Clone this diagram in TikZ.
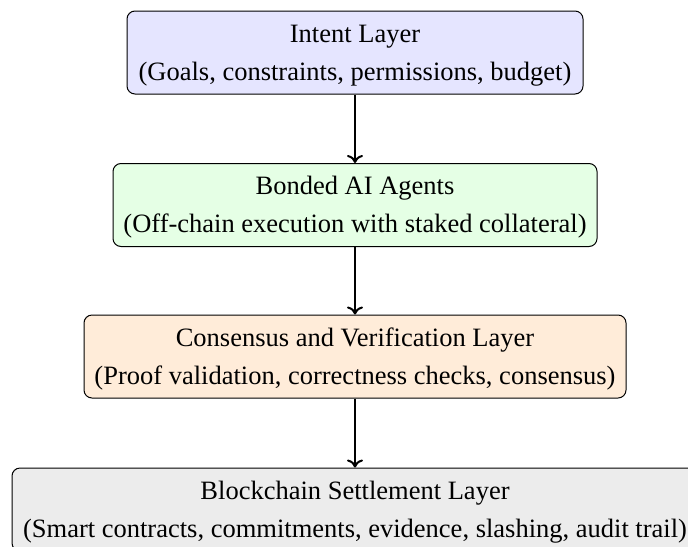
\documentclass[tikz,border=0pt]{standalone}
\usepackage{fontspec}
\setmainfont{Liberation Serif}
\usetikzlibrary{arrows.meta}
% struts that fix the first baseline and the last depth of each box text
\def\hstrut{\rule{0pt}{11.5pt}}
\def\dstrut{\rule[-3pt]{0pt}{3pt}}
\begin{document}
\begin{tikzpicture}[x=1pt,y=1pt,
  layerbox/.style={draw=black, line width=0.5pt, rounded corners=4pt, align=center,
    inner xsep=5pt, inner ysep=0pt, minimum height=41.5pt,
    font=\fontsize{13.25}{19}\selectfont},
  flow/.style={-{To[length=4pt,width=8pt]}, line width=1pt}]
  \useasboundingbox (0,0) rectangle (344,-273);
  \clip (0,0) rectangle (344,-273);
  \node[layerbox, fill=blue!10, minimum width=228pt] (intent) at (177.5,-26.25)
    {\hstrut Intent Layer\\(Goals, constraints, permissions, budget)\dstrut};
  \node[layerbox, fill=green!10, minimum width=242pt] (agents) at (177.5,-102.5)
    {\hstrut Bonded AI Agents\\(Off-chain execution with staked collateral)\dstrut};
  \node[layerbox, fill=orange!15, minimum width=271pt] (consensus) at (177.5,-178.25)
    {\hstrut Consensus and Verification Layer\\(Proof validation, correctness checks, consensus)\dstrut};
  \node[layerbox, fill=gray!15, minimum width=343pt] (settle) at (177.5,-254.75)
    {\hstrut Blockchain Settlement Layer\\(Smart contracts, commitments, evidence, slashing, audit trail)\dstrut};
  \draw[flow] (intent) -- (agents);
  \draw[flow] (agents) -- (consensus);
  \draw[flow] (consensus) -- (settle);
\end{tikzpicture}
\end{document}
